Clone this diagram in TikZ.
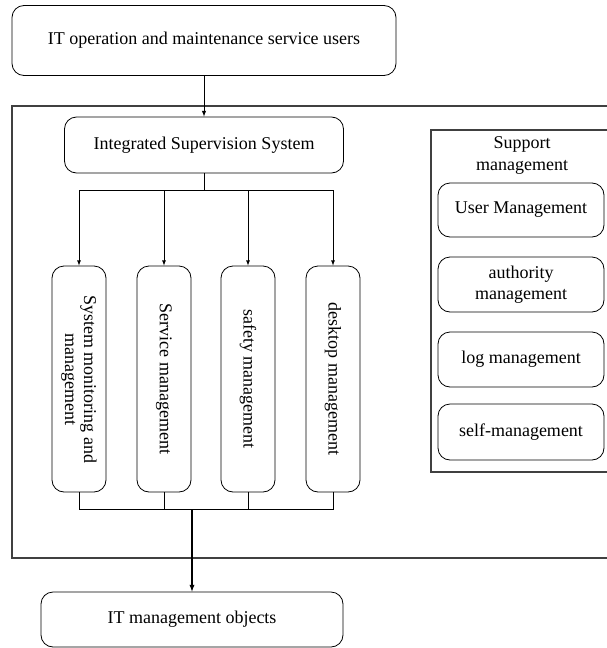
\documentclass[tikz,border=0pt]{standalone}
\usepackage{fontspec}
\setmainfont{Liberation Serif}
\usepackage{tikz}
\usetikzlibrary{positioning,calc}

\begin{document}
\begin{tikzpicture}[
    x=1pt, y=-1pt,
    box/.style={draw, rounded corners=12pt, line width=0.8pt, align=center, font=\fontsize{18}{21}\selectfont},
    vbox/.style={draw, rounded corners=12pt, line width=0.8pt, minimum width=54pt, minimum height=226pt},
    vtext/.style={rotate=-90, align=center, font=\fontsize{18}{19}\selectfont},
    frame/.style={draw=black!75, line width=1.3pt},
    link/.style={draw, line width=0.8pt},
    arrow/.style={draw, ->, >=latex, line width=0.8pt}
]
\useasboundingbox (0,0) rectangle (606,648);

% Outer frames (open on the right)
\draw[frame] (620,106) -- (12,106) -- (12,558) -- (620,558);
\draw[frame] (620,130) -- (431,130) -- (431,472) -- (620,472);

% Main nodes
\node[box, minimum width=384pt, minimum height=70pt] (users) at (204,40.5) {IT operation and maintenance service users};
\node[box, minimum width=279pt, minimum height=56pt] (iss) at (204,145) {Integrated Supervision System};
\node[box, minimum width=302pt, minimum height=55pt] (objs) at (192,619.5) {IT management objects};

% Vertical modules
\node[vbox] (smm) at (79,379) {};
\node[vbox] (svc) at (164,379) {};
\node[vbox] (saf) at (248,379) {};
\node[vbox] (dsk) at (333,379) {};
\node[vtext] at (smm) {System monitoring and\\management};
\node[vtext] at (svc) {Service management};
\node[vtext] at (saf) {safety management};
\node[vtext] at (dsk) {desktop management};

% Support management
\node[align=center, font=\fontsize{18}{22}\selectfont] (sup) at (522,155) {Support\\management};
\node[box, minimum width=166pt, minimum height=54pt] (user) at (521,210) {User Management};
\node[box, minimum width=166pt, minimum height=55pt] (auth) at (521,284.5) {authority\\management};
\node[box, minimum width=166pt, minimum height=55pt] (log) at (521,359.5) {log management};
\node[box, minimum width=166pt, minimum height=56pt] (self) at (521,432) {self-management};

% Connectors
\coordinate (split) at (204,190);
\coordinate (join) at (192,509);
\draw[arrow, line width=1pt] (users) -- (iss);
\draw[link, line width=1pt] (iss) -- (split);
\draw[arrow] (split) -| (smm.north);
\draw[arrow] (split) -| (svc.north);
\draw[arrow] (split) -| (saf.north);
\draw[arrow] (split) -| (dsk.north);
\draw[link] (smm.south) |- (join);
\draw[link] (svc.south) |- (join);
\draw[link] (saf.south) |- (join);
\draw[link] (dsk.south) |- (join);
\draw[arrow, line width=1.3pt] (join) -- (objs);

\end{tikzpicture}
\end{document}
